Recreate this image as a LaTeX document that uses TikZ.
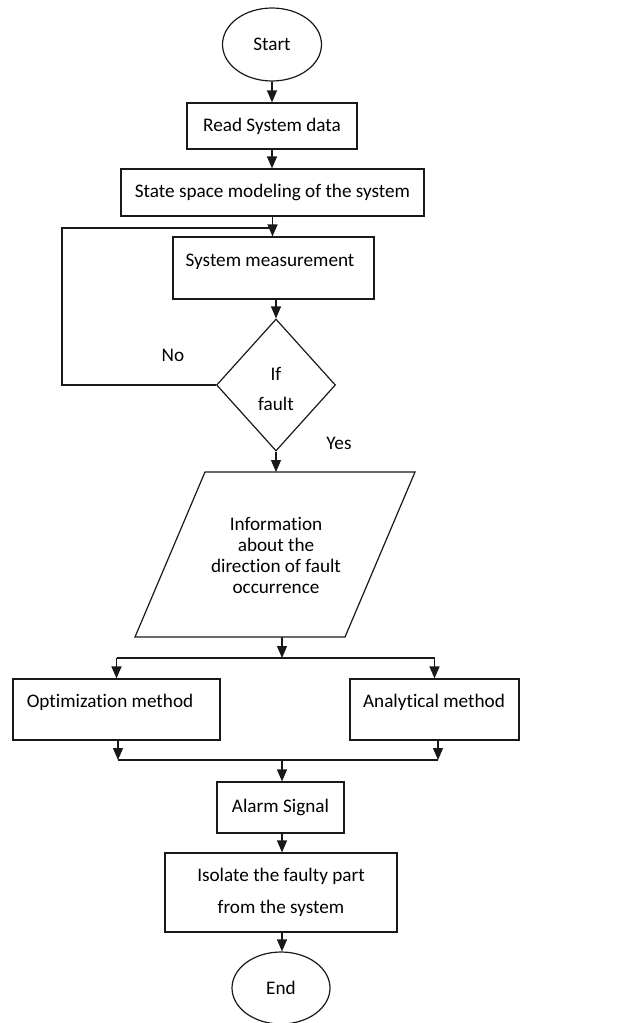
\documentclass[tikz,border=0pt]{standalone}
\usepackage{fontspec}
\setmainfont[Ligatures={NoCommon}]{Carlito}
\usetikzlibrary{shapes.geometric,arrows.meta}
\tikzset{
  ln/.style={line width=1.2pt, draw=black!90},
  arr/.style={ln, -{Triangle[length=12pt,width=10pt]}},
  box/.style={draw=black!90, line width=1.2pt, rectangle, inner sep=0pt},
  oval/.style={draw=black!90, line width=1.2pt, ellipse, inner sep=0pt},
  dia/.style={draw=black!90, line width=1.2pt, diamond, inner sep=0pt},
  txt/.style={font=\fontsize{19.2}{21}\selectfont, align=center, inner sep=0pt, text=black},
}
\begin{document}
\begin{tikzpicture}[x=1pt,y=-1pt]
\useasboundingbox (0,0) rectangle (625,1023);
% nodes
\node[oval, minimum width=99pt, minimum height=73pt, txt] (start) at (272,44.5) {Start};
\node[box, minimum width=170pt, minimum height=46pt, txt] (read) at (272,126) {Read System data};
\node[box, minimum width=303pt, minimum height=47pt, txt] (state) at (272.5,192.5) {State space modeling of the system};
\node[box, minimum width=201pt, minimum height=62pt] (sm) at (273.5,268) {};
\node[txt] (smt) at (270,262) {System measurement};
\node[dia, minimum width=119pt, minimum height=132pt] (dec) at (276,385) {};
\node[txt, font=\fontsize{19.2}{30}\selectfont] (dect) at (276,389) {If\\fault};
% parallelogram
\coordinate (p1) at (205,472);
\coordinate (p2) at (415,472);
\coordinate (p3) at (345,637);
\coordinate (p4) at (135,637);
\draw[ln] (p1) -- (p2) -- (p3) -- (p4) -- cycle;
\coordinate (infotop) at (276,472);
\coordinate (infobot) at (282,637);
\node[txt] (info) at (276,555) {Information\\about the\\direction of fault\\occurrence};
\node[box, minimum width=207pt, minimum height=61pt] (opt) at (116.5,709.5) {};
\node[txt] (optt) at (110,702) {Optimization method};
\node[box, minimum width=169pt, minimum height=61pt] (ana) at (434.5,709.5) {};
\node[txt] (anat) at (434,702) {Analytical method};
\node[box, minimum width=127pt, minimum height=51pt, txt] (alarm) at (280.5,807.5) {Alarm Signal};
\node[box, minimum width=232pt, minimum height=79pt, txt, font=\fontsize{19.2}{32}\selectfont] (iso) at (281,892.5) {Isolate the faulty part\\from the system};
\node[oval, minimum width=98pt, minimum height=72pt, txt] (end) at (281,988) {End};
\node[txt] (no) at (173,355) {No};
\node[txt] (yes) at (339,443) {Yes};
% helper coordinates
\coordinate (loopc) at (62,228);
\coordinate (split) at (282,658);
\coordinate (join) at (282,760);
% connectors
\draw[arr] (start.south) -- (read.north);
\draw[arr] (read.south) -- (read.south |- state.north);
\draw[arr] (state.south) -- (state.south |- sm.north);
\draw[ln] (dec.west) -| (loopc) -- (state.south |- loopc);
\draw[arr] (sm.south -| dec.north) -- (dec.north);
\draw[arr] (dec.south) -- (infotop);
\draw[arr] (infobot) -- (split);
\draw[ln] (opt.north |- split) -- (ana.north |- split);
\draw[arr] (opt.north |- split) -- (opt.north);
\draw[arr] (ana.north |- split) -- (ana.north);
\draw[arr] ([xshift=1.5pt]opt.south) -- ([xshift=1.5pt]opt.south |- join);
\draw[arr] ([xshift=3.5pt]ana.south) -- ([xshift=3.5pt]ana.south |- join);
\draw[ln] ([xshift=1.5pt]opt.south |- join) -- ([xshift=3.5pt]ana.south |- join);
\draw[arr] (join) -- (join |- alarm.north);
\draw[arr] (join |- alarm.south) -- (join |- iso.north);
\draw[arr] (join |- iso.south) -- (join |- end.north);
\end{tikzpicture}
\end{document}
